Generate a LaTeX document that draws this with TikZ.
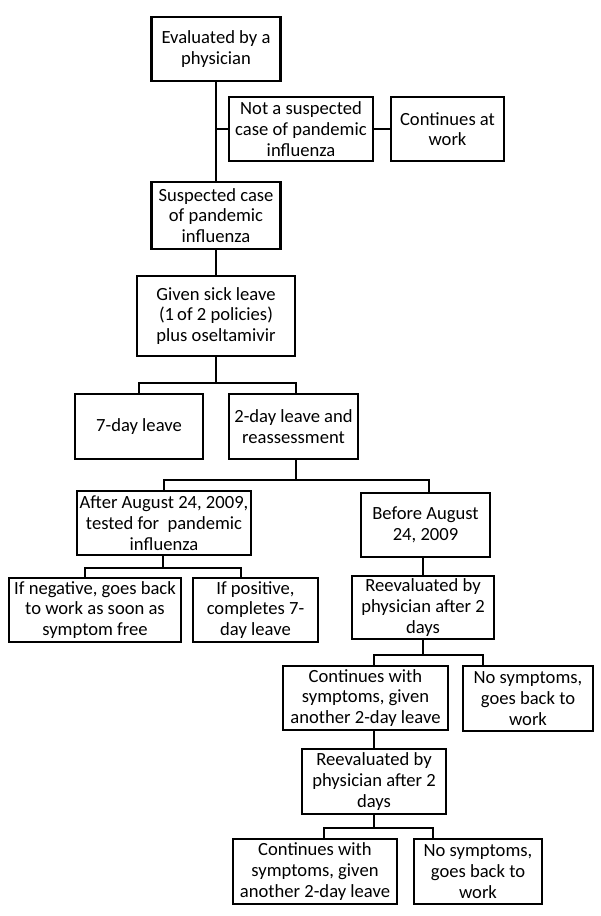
\documentclass[tikz,border=0pt]{standalone}
\usepackage{fontspec}
\setmainfont{Carlito}
\begin{document}
\begin{tikzpicture}[x=1pt,y=-1pt,
  box/.style={draw,line width=2.3pt,rectangle,inner sep=0pt,align=center,
    font=\fontsize{18.6}{20.7}\selectfont},
  conn/.style={line width=2.3pt}]
\useasboundingbox (0,0) rectangle (600,916);
\node[box,minimum width=129,minimum height=64] (eval) at (216,49) {Evaluated by a\\physician};
\node[box,minimum width=144,minimum height=64] (notsusp) at (301,129) {Not a suspected\\case of pandemic\\influenza};
\node[box,minimum width=113,minimum height=64] (contwork) at (447.5,129) {Continues at\\work};
\node[box,minimum width=129,minimum height=67] (susp) at (216,215.5) {Suspected case\\of pandemic\\influenza};
\node[box,minimum width=158,minimum height=80] (sick) at (216,316) {Given sick leave\\(1\,of 2 policies)\\plus oseltamivir};
\node[box,minimum width=128,minimum height=65] (seven) at (139,426.5) {7-day leave};
\node[box,minimum width=129,minimum height=65] (two) at (293.5,426.5) {2-day leave and\\reassessment};
\node[box,minimum width=174,minimum height=64] (after) at (164,523) {After August 24, 2009,\\tested for\ \ pandemic\\influenza};
\node[box,minimum width=129,minimum height=64] (before) at (425.5,525) {Before August\\24, 2009};
\node[box,minimum width=172,minimum height=64] (neg) at (95,610) {If negative, goes back\\to work as soon as\\symptom free};
\node[box,minimum width=125,minimum height=64] (pos) at (255.5,610) {If positive,\\completes 7-\\day leave};
\node[box,minimum width=142,minimum height=63] (reevalA) at (423,607.5) {Reevaluated by\\physician after 2\\days};
\node[box,minimum width=165,minimum height=64] (contA) at (365.5,698) {Continues with\\symptoms, given\\another 2-day leave};
\node[box,minimum width=130,minimum height=65] (nosymA) at (528,698.5) {No symptoms,\\goes back to\\work};
\node[box,minimum width=144,minimum height=65] (reevalB) at (374,781.5) {Reevaluated by\\physician after 2\\days};
\node[box,minimum width=164,minimum height=65] (contB) at (315,871.5) {Continues with\\symptoms, given\\another 2-day leave};
\node[box,minimum width=128,minimum height=65] (nosymB) at (478,871.5) {No symptoms,\\goes back to\\work};
% connectors
\draw[conn] (eval.south) -- (susp.north);
\draw[conn] (notsusp.west) -- (notsusp.west -| eval.south);
\draw[conn] (notsusp.east) -- (contwork.west);
\draw[conn] (susp.south) -- (sick.north);
\draw[conn] (sick.south) -- ++(0,26) coordinate (j1);
\draw[conn] (seven.north) |- (j1) -| ([xshift=2.5]two.north);
\draw[conn] ([xshift=2.5]two.south) -- ++(0,20) coordinate (j2);
\draw[conn] (after.north) |- (j2) -| ([xshift=3.5]before.north);
\draw[conn] ([xshift=-1]after.south) -- ++(0,12) coordinate (j3);
\draw[conn] ([xshift=-10]neg.north) |- (j3) -| ([xshift=-14.5]pos.north);
\draw[conn] (before.south -| reevalA.north) -- (reevalA.north);
\draw[conn] (reevalA.south) -- ++(0,15) coordinate (j4);
\draw[conn] ([xshift=8.5]contA.north) |- (j4) -| ([xshift=-45]nosymA.north);
\draw[conn] (reevalB.north |- contA.south) -- (reevalB.north);
\draw[conn] (reevalB.south) -- ++(0,13) coordinate (j5);
\draw[conn] ([xshift=9]contB.north) |- (j5) -| ([xshift=-45]nosymB.north);
\end{tikzpicture}
\end{document}
